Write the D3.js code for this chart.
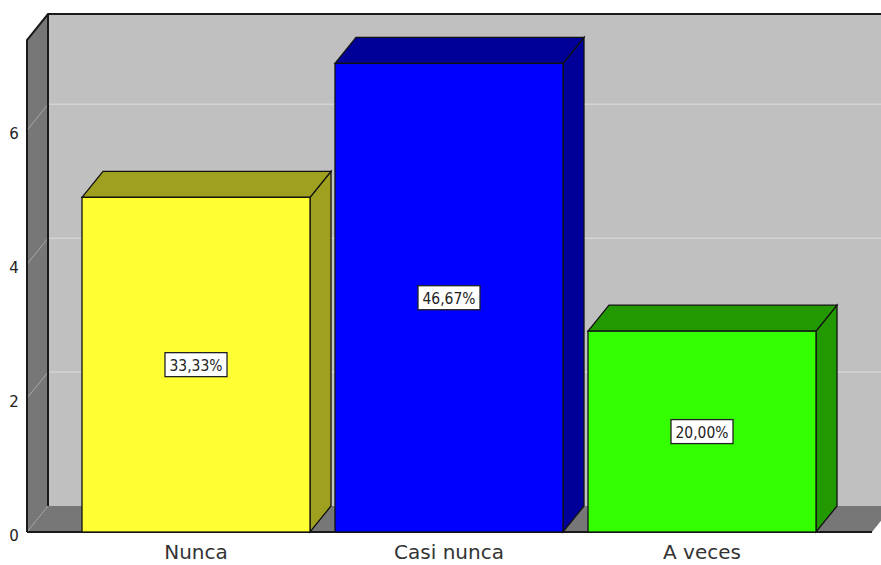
<!DOCTYPE html>
<html>
<head>
<meta charset="utf-8">
<script src="https://cdn.jsdelivr.net/npm/d3@7"></script>
<style>
  body { margin: 0; background: #fff; }
  text { font-family: "DejaVu Sans", sans-serif; }
</style>
</head>
<body>
<script>
var categories = ["Nunca", "Casi nunca", "A veces"];
var counts = [5, 7, 3];
var pctLabels = ["33,33%", "46,67%", "20,00%"];
var yTicks = [0, 2, 4, 6];
var frontColors = ["#ffff33", "#0000ff", "#33ff00"];
var darkColors = ["#a0a020", "#000099", "#229900"];

var width = 881, height = 565,
	floorLeft = 27, floorRight = 872,
	baseY = 532,
	dx = 21, dy = 26;

var svg = d3.select("body")
	.append("svg")
	.attr("width", width)
	.attr("height", height);

var y = d3.scaleLinear().domain([0, 7.35]).range([baseY, 40]);
var x = d3.scaleBand().domain(categories)
	.range([69.5, 828.5])
	.paddingInner(0.0988)
	.paddingOuter(0.0494);

var wallTop = y.range()[1];

// back wall
svg.append("rect")
	.attr("x", floorLeft + dx).attr("y", wallTop - dy)
	.attr("width", width).attr("height", baseY - wallTop)
	.attr("fill", "#c0c0c0");

// left side wall
svg.append("path")
	.attr("d", "M" + floorLeft + "," + baseY + "L" + floorLeft + "," + wallTop +
		"L" + (floorLeft + dx) + "," + (wallTop - dy) + "L" + (floorLeft + dx) + "," + (baseY - dy) + "Z")
	.attr("fill", "#777777");

// floor
svg.append("path")
	.attr("d", "M" + floorLeft + "," + baseY + "L" + (floorLeft + dx) + "," + (baseY - dy) +
		"L" + (floorRight + dx) + "," + (baseY - dy) + "L" + floorRight + "," + baseY + "Z")
	.attr("fill", "#777777");

// grid lines
var grid = svg.append("g");
yTicks.forEach(function(t) {
	if (t > 0) {
		grid.append("line")
			.attr("x1", floorLeft + dx).attr("x2", width)
			.attr("y1", y(t) - dy).attr("y2", y(t) - dy)
			.attr("stroke", "#d4d4d4").attr("stroke-width", 1.5);
	}
	grid.append("line")
		.attr("x1", floorLeft).attr("x2", floorLeft + dx)
		.attr("y1", y(t)).attr("y2", y(t) - dy)
		.attr("stroke", "#a8a8a8").attr("stroke-width", 1)
		.attr("stroke-dasharray", t == 0 ? "2,1" : null);
});

// frame edges
var edge = "#1a1a1a";
svg.append("path")
	.attr("d", "M" + floorLeft + "," + baseY + "L" + floorLeft + "," + wallTop +
		"L" + (floorLeft + dx) + "," + (wallTop - dy) + "L" + width + "," + (wallTop - dy))
	.attr("fill", "none").attr("stroke", edge).attr("stroke-width", 2);
svg.append("line")
	.attr("x1", floorLeft + dx).attr("x2", floorLeft + dx)
	.attr("y1", wallTop - dy).attr("y2", baseY - dy)
	.attr("stroke", edge).attr("stroke-width", 2);
svg.append("line")
	.attr("x1", floorLeft).attr("x2", floorRight)
	.attr("y1", baseY).attr("y2", baseY)
	.attr("stroke", edge).attr("stroke-width", 2);

// bars
var bars = svg.append("g").selectAll("g")
	.data(categories)
	.enter().append("g");

bars.each(function(c, i) {
	var g = d3.select(this),
		x0 = x(c), x1 = x(c) + x.bandwidth(),
		y0 = y(counts[i]);
	g.append("path")
		.attr("d", "M" + x1 + "," + baseY + "L" + x1 + "," + y0 + "L" + (x1 + dx) + "," + (y0 - dy) +
			"L" + (x1 + dx) + "," + (baseY - dy) + "Z")
		.attr("fill", darkColors[i]).attr("stroke", "#111").attr("stroke-width", 1.3);
	g.append("path")
		.attr("d", "M" + x0 + "," + y0 + "L" + (x0 + dx) + "," + (y0 - dy) + "L" + (x1 + dx) + "," + (y0 - dy) +
			"L" + x1 + "," + y0 + "Z")
		.attr("fill", darkColors[i]).attr("stroke", "#111").attr("stroke-width", 1.3);
	g.append("rect")
		.attr("x", x0).attr("y", y0)
		.attr("width", x.bandwidth()).attr("height", baseY - y0)
		.attr("fill", frontColors[i]).attr("stroke", "#111").attr("stroke-width", 1.3);

	// value label box
	var cx = x0 + x.bandwidth() / 2, cy = (y0 + baseY) / 2;
	g.append("rect")
		.attr("x", cx - 31).attr("y", cy - 12)
		.attr("width", 62).attr("height", 24)
		.attr("fill", "#fff").attr("stroke", "#222").attr("stroke-width", 1.3);
	g.append("text")
		.attr("x", cx).attr("y", cy + 6)
		.attr("text-anchor", "middle")
		.attr("font-size", 16).attr("fill", "#222")
		.attr("textLength", 53).attr("lengthAdjust", "spacingAndGlyphs")
		.text(pctLabels[i]);
});

// y tick labels
svg.append("g").selectAll("text")
	.data(yTicks)
	.enter().append("text")
	.attr("x", 14).attr("y", function(d) { return y(d) + 9; })
	.attr("text-anchor", "middle")
	.attr("font-size", 15).attr("fill", "#222")
	.text(function(d) { return d; });

// category labels
svg.append("g").selectAll("text")
	.data(categories)
	.enter().append("text")
	.attr("x", function(d) { return x(d) + x.bandwidth() / 2; })
	.attr("y", 559)
	.attr("text-anchor", "middle")
	.attr("font-size", 20).attr("fill", "#333")
	.text(function(d) { return d; });
</script>
</body>
</html>
